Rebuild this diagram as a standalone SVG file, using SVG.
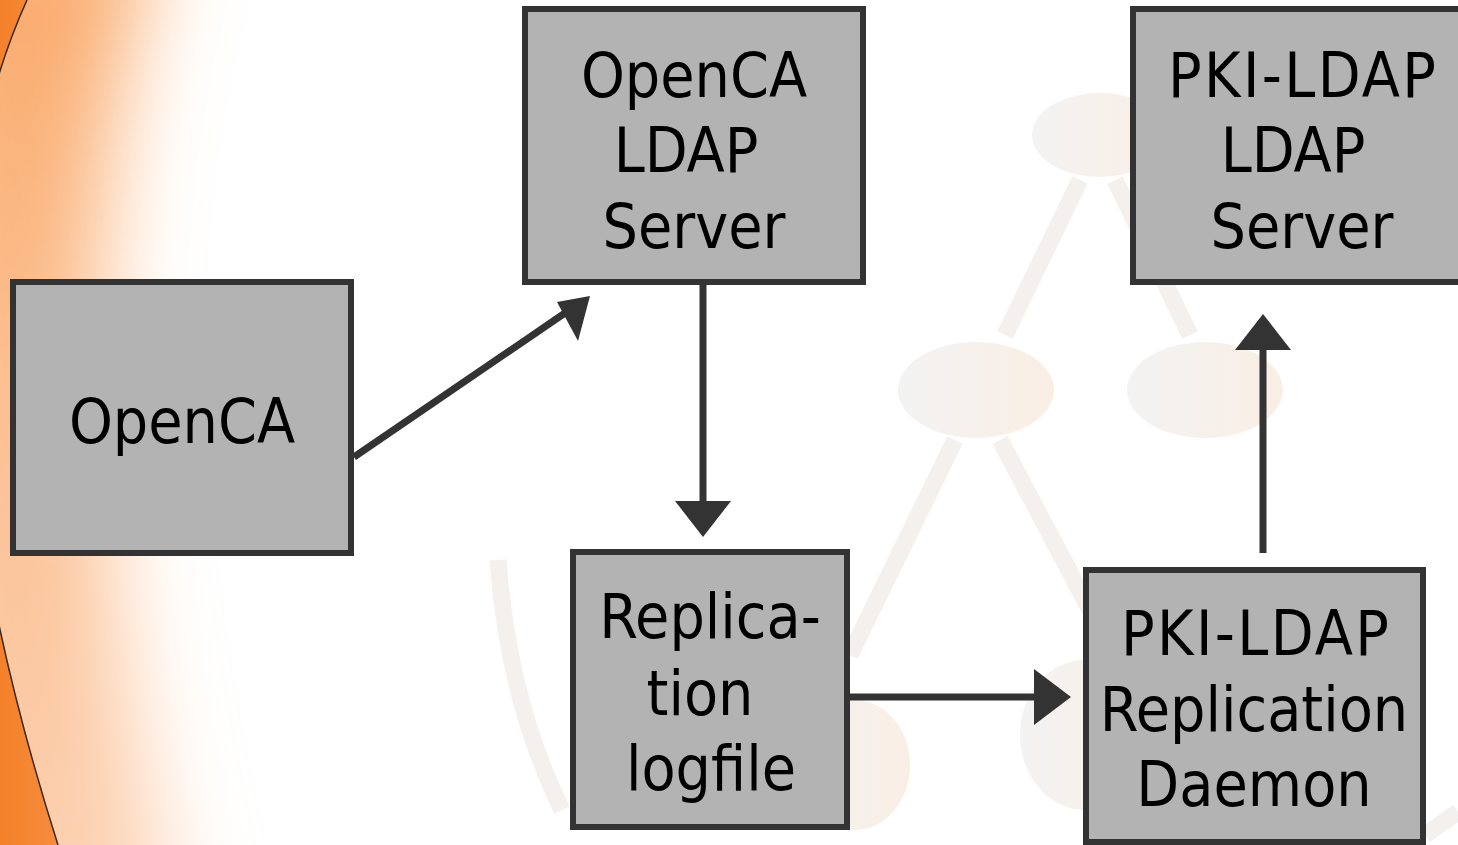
<svg xmlns="http://www.w3.org/2000/svg" width="1458" height="845" viewBox="0 0 1458 845">
<defs>
<linearGradient id="peach" x1="0" y1="0" x2="0" y2="1">
<stop offset="0" stop-color="#f9a868"/>
<stop offset="0.5" stop-color="#fbbf90"/>
<stop offset="1" stop-color="#fcd2b4"/>
</linearGradient>
<linearGradient id="outer" x1="0" y1="0" x2="1" y2="0">
<stop offset="0" stop-color="#f47a1f"/>
<stop offset="1" stop-color="#f68c3c"/>
</linearGradient>
<linearGradient id="blob" x1="0" y1="0" x2="1" y2="0">
<stop offset="0" stop-color="#f3f3f3"/>
<stop offset="1" stop-color="#faeee4"/>
</linearGradient>
<filter id="soft" filterUnits="userSpaceOnUse" x="-400" y="-400" width="1000" height="1700">
<feGaussianBlur stdDeviation="45"/>
</filter>
<style>
.box{fill:#b3b3b3;stroke:#333333;stroke-width:6}
.lbl{font-family:"DejaVu Sans Condensed","DejaVu Sans",sans-serif;font-size:62px;fill:#000000;text-anchor:middle}
.conn{stroke:#333333;stroke-width:7;fill:none}
.head{fill:#333333}
.bgl{stroke:#f4f0ed;stroke-width:17;fill:none}
</style>
</defs>
<rect width="1458" height="845" fill="#ffffff"/>
<g id="background-glow">
<path d="M-80,-80 L160,-80 Q30,330 175,930 L-80,930 Z" fill="url(#peach)" filter="url(#soft)"/>
<path d="M0,0 L27,0 Q-112.5,309 58,845 L0,845 Z" fill="url(#outer)"/>
<path d="M27,0 Q-112.5,309 58,845" fill="none" stroke="#3a2a20" stroke-width="1.5"/>
</g>
<g id="background-network">
<line class="bgl" x1="1080" y1="180" x2="1005" y2="335"/>
<line class="bgl" x1="1115" y1="180" x2="1190" y2="335"/>
<line class="bgl" x1="955" y1="440" x2="850" y2="655"/>
<line class="bgl" x1="1000" y1="440" x2="1090" y2="610"/>
<path class="bgl" d="M498,560 Q508,700 562,810" stroke-width="9" stroke="#f8f3ef"/>
<path class="bgl" d="M1425,835 L1458,812" stroke-width="9" stroke="#f8efe8"/>
<ellipse cx="1100" cy="135" rx="68" ry="42" fill="url(#blob)"/>
<ellipse cx="976" cy="390" rx="78" ry="48" fill="url(#blob)"/>
<ellipse cx="1205" cy="390" rx="78" ry="48" fill="url(#blob)"/>
<ellipse cx="855" cy="765" rx="55" ry="65" fill="url(#blob)"/>
<ellipse cx="1085" cy="735" rx="65" ry="75" fill="url(#blob)"/>
</g>
<g id="connectors">
<line class="conn" x1="354" y1="457" x2="565" y2="313"/>
<path class="head" d="M590,296 L578,341 L557,302 Z"/>
<line class="conn" x1="703" y1="285" x2="703" y2="505"/>
<path class="head" d="M703,537 L675,501 L731,501 Z"/>
<line class="conn" x1="850" y1="697" x2="1040" y2="697"/>
<path class="head" d="M1071,697 L1034,669 L1034,725 Z"/>
<line class="conn" x1="1263" y1="553" x2="1263" y2="345"/>
<path class="head" d="M1263,314 L1235,350 L1291,350 Z"/>
</g>
<g id="opencA">
<rect class="box" x="13" y="282" width="338" height="271"/>
<text class="lbl" x="182" y="443">OpenCA</text>
</g>
<g id="opencaLdapServer">
<rect class="box" x="525" y="9" width="338" height="273"/>
<text class="lbl" x="694" y="97">OpenCA</text>
<text class="lbl" x="686" y="172">LDAP</text>
<text class="lbl" x="694" y="248">Server</text>
</g>
<g id="pkiLdapServer">
<rect class="box" x="1133" y="9" width="340" height="273"/>
<text class="lbl" x="1302" y="97" textLength="268" lengthAdjust="spacing">PKI-LDAP</text>
<text class="lbl" x="1293" y="172">LDAP</text>
<text class="lbl" x="1302" y="248">Server</text>
</g>
<g id="replicationLogfile">
<rect class="box" x="573" y="552" width="274" height="275"/>
<text class="lbl" x="710" y="638">Replica-</text>
<text class="lbl" x="700" y="715">tion</text>
<text class="lbl" x="711" y="790">logfile</text>
</g>
<g id="pkiLdapReplicationDaemon">
<rect class="box" x="1086" y="570" width="337" height="272"/>
<text class="lbl" x="1255" y="655" textLength="268" lengthAdjust="spacing">PKI-LDAP</text>
<text class="lbl" x="1254" y="731">Replication</text>
<text class="lbl" x="1254" y="806">Daemon</text>
</g>
</svg>
